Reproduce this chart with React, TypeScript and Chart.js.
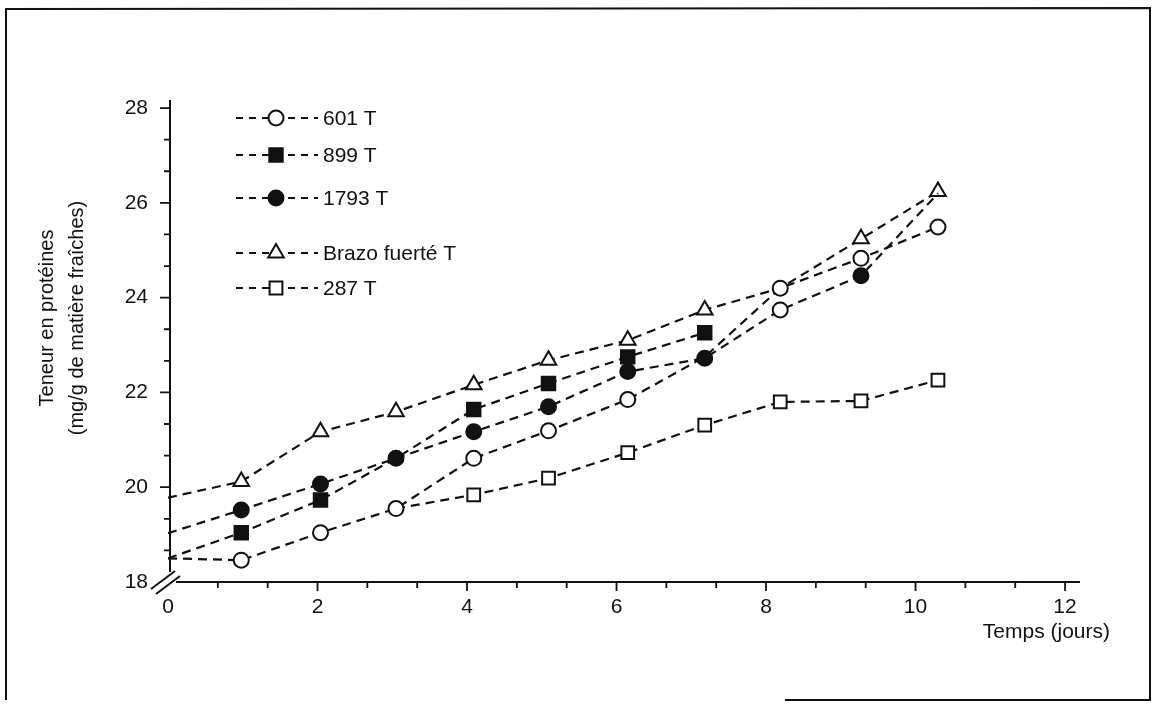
import React, { useEffect, useRef } from 'react';
import { Chart, registerables } from 'chart.js';

Chart.register(...registerables);

// ---- data ----
const days = [0, 0.98, 2.04, 3.05, 4.09, 5.09, 6.15, 7.18, 8.19, 9.27, 10.3];
const s601 = [18.5, 18.46, 19.04, 19.55, 20.61, 21.19, 21.85, 22.75, 24.2, 24.83, 25.49];
const s899 = [18.5, 19.04, 19.73, 20.61, 21.64, 22.19, 22.75, 23.26];
const s1793 = [19.03, 19.52, 20.07, 20.61, 21.17, 21.7, 22.44, 22.72, 23.74, 24.46, 26.2];
const sBrazo = [19.78, 20.12, 21.17, 21.59, 22.16, 22.68, 23.1, 23.74, 24.2, 25.24, 26.24];
const s287 = [null, null, null, 19.55, 19.84, 20.19, 20.73, 21.31, 21.8, 21.82, 22.26];

const seriesNames = ['601 T', '899 T', '1793 T', 'Brazo fuerté T', '287 T'];
const xTickLabels = ['0', '2', '4', '6', '8', '10', '12'];
const yTickLabels = ['18', '20', '22', '24', '26', '28'];
const yTitle = ['Teneur en protéines', '(mg/g de matière fraîches)'];
const xTitle = 'Temps (jours)';

const FONT = '"Liberation Sans", Arial, Helvetica, sans-serif';
const INK = '#111111';

function withMinors(labels: string[]): number[] {
  const vals = labels.map(Number);
  const out: number[] = [];
  for (let i = 0; i < vals.length; i++) {
    out.push(vals[i]);
    if (i < vals.length - 1) {
      const step = (vals[i + 1] - vals[i]) / 3;
      out.push(vals[i] + step, vals[i] + 2 * step);
    }
  }
  return out;
}
const xTicks = withMinors(xTickLabels);
const yTicks = withMinors(yTickLabels);
const isMajor = (v: number, labels: string[]) => labels.some((l) => Math.abs(Number(l) - v) < 1e-6);

function pts(vals: (number | null)[]) {
  return vals.map((v, i) => ({ x: days[i], y: v }));
}

function drawMarker(ctx: CanvasRenderingContext2D, style: string, x: number, y: number, filled: boolean) {
  ctx.save();
  ctx.setLineDash([]);
  ctx.lineWidth = 2;
  ctx.strokeStyle = INK;
  ctx.fillStyle = filled ? INK : '#ffffff';
  ctx.beginPath();
  if (style === 'circle') {
    ctx.arc(x, y, 7.5, 0, Math.PI * 2);
  } else if (style === 'rect') {
    const h = filled ? 6.7 : 6.4;
    ctx.rect(x - h, y - h, 2 * h, 2 * h);
  } else {
    const r = 9;
    ctx.moveTo(x, y - r);
    ctx.lineTo(x + r * 0.866, y + r * 0.5);
    ctx.lineTo(x - r * 0.866, y + r * 0.5);
    ctx.closePath();
  }
  ctx.fill();
  ctx.stroke();
  ctx.restore();
}

const legendRows = [
  { style: 'circle', filled: false, y: 118 },
  { style: 'rect', filled: true, y: 155 },
  { style: 'circle', filled: true, y: 198 },
  { style: 'triangle', filled: false, y: 253 },
  { style: 'rect', filled: false, y: 288 },
];

const decor = {
  id: 'decor',
  beforeDraw(chart: any) {
    const ctx = chart.ctx as CanvasRenderingContext2D;
    ctx.save();
    ctx.fillStyle = '#ffffff';
    ctx.fillRect(0, 0, chart.width, chart.height);
    ctx.restore();
  },
  afterDraw(chart: any) {
    const ctx = chart.ctx as CanvasRenderingContext2D;
    const xs = chart.scales.x;
    const ys = chart.scales.y;
    const area = chart.chartArea;
    ctx.save();
    ctx.strokeStyle = INK;
    ctx.fillStyle = INK;
    ctx.setLineDash([]);

    // page frame
    ctx.lineWidth = 2;
    ctx.beginPath();
    ctx.moveTo(6, 700);
    ctx.lineTo(6, 9);
    ctx.lineTo(1150, 8);
    ctx.lineTo(1150, 700);
    ctx.lineTo(785, 700);
    ctx.stroke();

    // axes
    const x0 = xs.getPixelForValue(0) + 2;
    const yb = ys.getPixelForValue(18);
    ctx.lineWidth = 2;
    ctx.beginPath();
    ctx.moveTo(x0, area.top);
    ctx.lineTo(x0, yb - 10);
    ctx.moveTo(x0 + 6, yb);
    ctx.lineTo(area.right, yb);
    ctx.stroke();

    // ticks
    ctx.lineWidth = 1.8;
    ctx.beginPath();
    xTicks.forEach((v) => {
      if (v === 0) return;
      const px = xs.getPixelForValue(v);
      const len = isMajor(v, xTickLabels) ? 9 : 6;
      ctx.moveTo(px, yb);
      ctx.lineTo(px, yb + len);
    });
    yTicks.forEach((v) => {
      if (v === 18) return;
      const py = ys.getPixelForValue(v);
      const len = isMajor(v, yTickLabels) ? 10 : 6;
      ctx.moveTo(x0 - len, py);
      ctx.lineTo(x0, py);
    });
    ctx.stroke();

    // axis break mark
    ctx.lineWidth = 2;
    ctx.beginPath();
    ctx.moveTo(x0 - 19, yb + 7);
    ctx.lineTo(x0 + 5, yb - 11);
    ctx.moveTo(x0 - 14, yb + 12);
    ctx.lineTo(x0 + 10, yb - 6);
    ctx.stroke();

    // y title
    ctx.font = `20px ${FONT}`;
    ctx.textAlign = 'center';
    ctx.textBaseline = 'middle';
    const tcy = 318;
    [47, 77].forEach((tx, i) => {
      ctx.save();
      ctx.translate(tx, tcy);
      ctx.rotate(-Math.PI / 2);
      ctx.fillText(yTitle[i], 0, 0);
      ctx.restore();
    });

    // x title
    ctx.font = `21px ${FONT}`;
    ctx.textAlign = 'right';
    ctx.textBaseline = 'middle';
    ctx.fillText(xTitle, 1110, 632);

    // legend
    ctx.font = `21px ${FONT}`;
    ctx.textAlign = 'left';
    legendRows.forEach((row, i) => {
      ctx.save();
      ctx.lineWidth = 2.2;
      ctx.setLineDash([7, 6]);
      ctx.beginPath();
      ctx.moveTo(236, row.y);
      ctx.lineTo(318, row.y);
      ctx.stroke();
      ctx.restore();
      drawMarker(ctx, row.style, 276, row.y, row.filled);
      ctx.fillText(seriesNames[i], 323, row.y + 1);
    });
    ctx.restore();
  },
};

export default function App() {
  const ref = useRef<HTMLCanvasElement>(null);
  useEffect(() => {
    const canvas = ref.current!;
    const common = {
      borderColor: INK,
      borderWidth: 2.2,
      borderDash: [9, 6],
      pointBorderColor: INK,
      pointBorderWidth: 2,
      tension: 0,
      fill: false,
    };
    const chart = new Chart(canvas, {
      type: 'line',
      data: {
        datasets: [
          {
            ...common,
            label: seriesNames[0],
            data: pts(s601),
            pointStyle: 'circle',
            pointRadius: [0, 7.5, 7.5, 7.5, 7.5, 7.5, 7.5, 0, 7.5, 7.5, 7.5],
            pointBackgroundColor: '#ffffff',
          },
          {
            ...common,
            label: seriesNames[1],
            data: pts(s899),
            pointStyle: 'rect',
            pointRadius: [0, 9.5, 9.5, 0, 9.5, 9.5, 9.5, 9.5],
            pointBackgroundColor: INK,
          },
          {
            ...common,
            label: seriesNames[2],
            data: pts(s1793),
            pointStyle: 'circle',
            pointRadius: [0, 7.5, 7.5, 7.5, 7.5, 7.5, 7.5, 7.5, 7.5, 7.5, 0],
            pointBackgroundColor: [INK, INK, INK, INK, INK, INK, INK, INK, '#ffffff', INK, INK],
          },
          {
            ...common,
            label: seriesNames[3],
            data: pts(sBrazo),
            pointStyle: 'triangle',
            pointRadius: [0, 9, 9, 9, 9, 9, 9, 9, 0, 9, 9],
            pointBackgroundColor: '#ffffff',
          },
          {
            ...common,
            label: seriesNames[4],
            data: pts(s287),
            pointStyle: 'rect',
            pointRadius: [0, 0, 0, 0, 9, 9, 9, 9, 9, 9, 9],
            pointBackgroundColor: '#ffffff',
          },
        ],
      },
      options: {
        responsive: false,
        animation: false,
        events: [],
        layout: { padding: { left: 0, right: 74, top: 100, bottom: 0 } },
        plugins: { legend: { display: false }, tooltip: { enabled: false } },
        scales: {
          x: {
            type: 'linear',
            min: 0,
            max: 12.2,
            afterFit: (s: any) => {
              s.height = 125;
            },
            afterBuildTicks: (s: any) => {
              s.ticks = xTicks.map((v) => ({ value: v }));
            },
            grid: { display: false, drawTicks: false },
            border: { display: false },
            ticks: {
              autoSkip: false,
              maxRotation: 0,
              padding: 13,
              color: INK,
              font: { family: FONT, size: 21 },
              callback: (v: any) => {
                const lab = xTickLabels.find((l) => Math.abs(Number(l) - Number(v)) < 1e-6);
                return lab ?? '';
              },
            },
          },
          y: {
            type: 'linear',
            min: 18,
            max: 28.17,
            afterFit: (s: any) => {
              s.width = 168;
            },
            afterBuildTicks: (s: any) => {
              s.ticks = yTicks.map((v) => ({ value: v }));
            },
            grid: { display: false, drawTicks: false },
            border: { display: false },
            ticks: {
              autoSkip: false,
              padding: 20,
              color: INK,
              font: { family: FONT, size: 21 },
              callback: (v: any) => {
                const lab = yTickLabels.find((l) => Math.abs(Number(l) - Number(v)) < 1e-6);
                return lab ?? '';
              },
            },
          },
        },
      },
      plugins: [decor],
    } as any);
    return () => chart.destroy();
  }, []);
  return (
    <div style={{ position: 'fixed', left: 0, top: 0, width: 1154, height: 707, background: '#ffffff' }}>
      <canvas ref={ref} width={1154} height={707} style={{ display: 'block', width: 1154, height: 707 }} />
    </div>
  );
}
